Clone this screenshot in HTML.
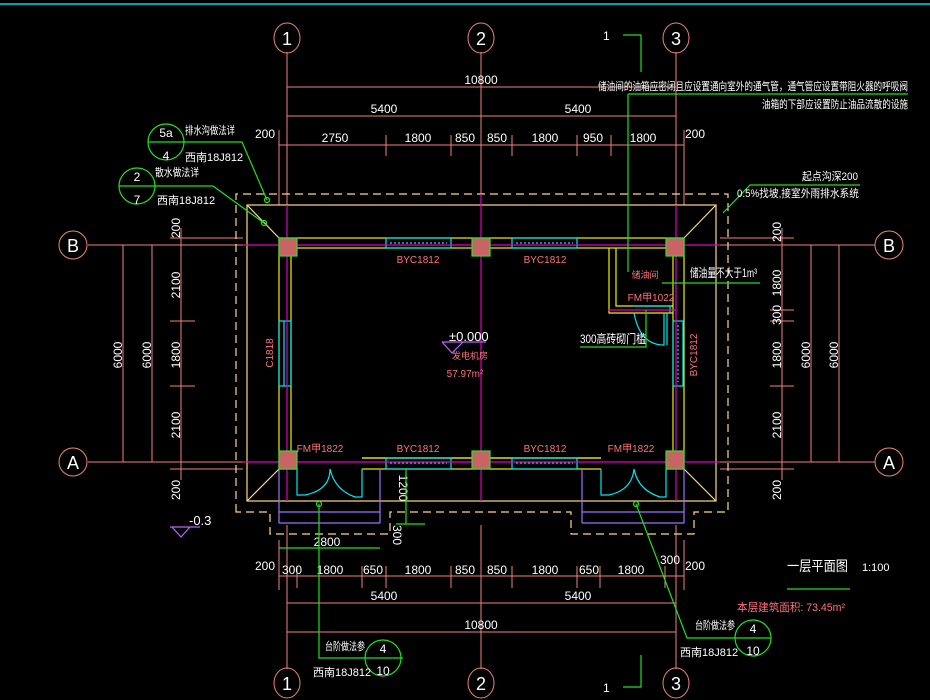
<!DOCTYPE html>
<html><head><meta charset="utf-8"><style>
html,body{margin:0;padding:0;background:#000;width:930px;height:700px;overflow:hidden}
svg{display:block}
text{font-family:"Liberation Sans","Noto Sans CJK SC",sans-serif}
</style></head><body>
<svg width="930" height="700" viewBox="0 0 930 700" xmlns="http://www.w3.org/2000/svg">
<rect width="930" height="700" fill="#000"/>
<line x1="0" y1="4" x2="930" y2="4" stroke="#00d8e0" stroke-width="1.5"/>

<g stroke="#f08080" stroke-width="1" fill="none">
<line x1="287" y1="52" x2="287" y2="205"/><line x1="481" y1="52" x2="481" y2="194"/><line x1="676" y1="52" x2="676" y2="205"/>
<line x1="287" y1="525" x2="287" y2="669"/><line x1="481" y1="525" x2="481" y2="669"/><line x1="676" y1="525" x2="676" y2="669"/>
<line x1="88" y1="245" x2="243" y2="245"/><line x1="88" y1="462" x2="243" y2="462"/>
<line x1="720" y1="245" x2="875" y2="245"/><line x1="720" y1="462" x2="875" y2="462"/>
<ellipse cx="287" cy="38" rx="13" ry="15"/><ellipse cx="481" cy="38" rx="13" ry="15"/><ellipse cx="676" cy="38" rx="13" ry="15"/>
<ellipse cx="287" cy="683" rx="13" ry="15"/><ellipse cx="481" cy="683" rx="13" ry="15"/><ellipse cx="676" cy="683" rx="13" ry="15"/>
<circle cx="73" cy="245" r="14"/><circle cx="73" cy="462" r="14"/><circle cx="889" cy="245" r="14"/><circle cx="889" cy="462" r="14"/>
<line x1="287" y1="87" x2="676" y2="87"/>
<line x1="287" y1="116" x2="676" y2="116"/>
<line x1="279" y1="145" x2="684" y2="145"/>
<line x1="279" y1="130" x2="279" y2="205"/><line x1="684" y1="130" x2="684" y2="205"/>
<line x1="386" y1="135" x2="386" y2="156"/><line x1="451" y1="135" x2="451" y2="156"/><line x1="512" y1="135" x2="512" y2="156"/><line x1="577" y1="135" x2="577" y2="156"/><line x1="611" y1="135" x2="611" y2="156"/>
<line x1="279" y1="576" x2="684" y2="576"/>
<line x1="287" y1="603" x2="676" y2="603"/>
<line x1="287" y1="632" x2="676" y2="632"/>
<line x1="279" y1="540" x2="279" y2="590"/><line x1="684" y1="540" x2="684" y2="590"/>
<line x1="297" y1="566" x2="297" y2="588"/><line x1="362" y1="566" x2="362" y2="588"/><line x1="386" y1="566" x2="386" y2="588"/><line x1="451" y1="566" x2="451" y2="588"/><line x1="512" y1="566" x2="512" y2="588"/><line x1="577" y1="566" x2="577" y2="588"/><line x1="600" y1="566" x2="600" y2="588"/><line x1="665" y1="566" x2="665" y2="588"/>
<line x1="123" y1="245" x2="123" y2="462"/><line x1="152" y1="245" x2="152" y2="462"/><line x1="181" y1="228" x2="181" y2="480"/>
<line x1="170" y1="238" x2="243" y2="238"/><line x1="170" y1="469" x2="243" y2="469"/>
<line x1="170" y1="321" x2="195" y2="321"/><line x1="170" y1="386" x2="195" y2="386"/>
<line x1="782" y1="228" x2="782" y2="480"/><line x1="811" y1="245" x2="811" y2="462"/><line x1="839" y1="245" x2="839" y2="462"/>
<line x1="720" y1="238" x2="794" y2="238"/><line x1="720" y1="469" x2="794" y2="469"/>
<line x1="770" y1="310" x2="794" y2="310"/><line x1="770" y1="321" x2="794" y2="321"/><line x1="770" y1="386" x2="794" y2="386"/>
</g>
<g fill="#fff" font-size="18" text-anchor="middle">
<text x="287" y="45">1</text><text x="481" y="45">2</text><text x="676" y="45">3</text>
<text x="287" y="690">1</text><text x="481" y="690">2</text><text x="676" y="690">3</text>
<text x="73" y="252">B</text><text x="73" y="469">A</text><text x="889" y="252">B</text><text x="889" y="469">A</text>
</g>
<g fill="#fff" font-size="12" text-anchor="middle">
<text x="481" y="84">10800</text>
<text x="384" y="113">5400</text><text x="578" y="113">5400</text>
<text x="265" y="138">200</text><text x="335" y="142">2750</text><text x="418" y="142">1800</text><text x="465" y="142">850</text><text x="497" y="142">850</text><text x="545" y="142">1800</text><text x="593" y="142">950</text><text x="643" y="142">1800</text><text x="695" y="138">200</text>
<text x="265" y="570">200</text><text x="292" y="574">300</text><text x="330" y="574">1800</text><text x="373" y="574">650</text><text x="418" y="574">1800</text><text x="465" y="574">850</text><text x="497" y="574">850</text><text x="545" y="574">1800</text><text x="589" y="574">650</text><text x="631" y="574">1800</text><text x="670" y="564">300</text><text x="695" y="570">200</text>
<text x="384" y="600">5400</text><text x="578" y="600">5400</text>
<text x="481" y="629">10800</text>
<text x="327" y="546">2800</text>
<g transform="rotate(-90)">
<text x="-355" y="122">6000</text><text x="-355" y="151">6000</text>
<text x="-285" y="180">2100</text><text x="-355" y="180">1800</text><text x="-425" y="180">2100</text>
<text x="-228" y="180">200</text><text x="-490" y="180">200</text>
<text x="-283" y="781">1800</text><text x="-315" y="781">300</text><text x="-355" y="781">1800</text><text x="-425" y="781">2100</text>
<text x="-232" y="781">200</text><text x="-490" y="781">200</text>
<text x="-355" y="810">6000</text><text x="-355" y="838">6000</text>
</g>
<g transform="rotate(90)">
<text x="488" y="-399">1200</text><text x="535" y="-393">300</text>
</g>
</g>

<g stroke="#ffd880" fill="none" stroke-width="1.2">
<rect x="247" y="205" width="469" height="296"/>
<line x1="247" y1="205" x2="279" y2="238"/><line x1="716" y1="205" x2="684" y2="238"/>
<line x1="247" y1="501" x2="279" y2="469"/><line x1="716" y1="501" x2="684" y2="469"/>
<path d="M236,512 V194 H728 V512 H694 V534 H571 V512 H390 V534 H270 V512 Z" stroke-dasharray="8,5"/>
</g>
<g stroke="#f0f000" fill="none" stroke-width="1.2">
<rect x="279" y="238" width="405" height="231"/>
<rect x="291" y="248" width="382" height="210"/>
<path d="M609,248 V313 H673"/><path d="M616,248 V306 H673"/>
<line x1="362" y1="458" x2="601" y2="458"/>
</g>
<rect x="297" y="457" width="65" height="13" fill="#000"/>
<rect x="601" y="457" width="65" height="13" fill="#000"/>
<g stroke="#a070ff" fill="none" stroke-width="1.2">
<path d="M279,469 V523 M380,469 V523 M279,512 H380 M279,523 H380"/>
<path d="M582,469 V523 M684,469 V523 M582,512 H684 M582,523 H684"/>
</g>
<g stroke="#00e8f0" fill="none" stroke-width="1.2">
<rect x="386" y="238" width="65" height="10"/><rect x="512" y="238" width="65" height="10"/>
<rect x="386" y="458" width="65" height="11"/><rect x="512" y="458" width="65" height="11"/>
<rect x="279" y="321" width="12" height="65"/><line x1="284" y1="321" x2="284" y2="386"/>
<rect x="673" y="321" width="10" height="65"/>
<path d="M390,243 H447 M516,243 H573 M390,463 H447 M516,463 H573 M678,325 V382" stroke-dasharray="2,2"/>
<path d="M297,469 V495 H305 Q330,490 330,469 Q335,490 355,497 H362 V469"/>
<path d="M601,469 V495 H609 Q632,490 634,469 Q638,490 660,497 H666 V469"/>
<path d="M633,306 H670 V313 M634,313 Q640,345 664,345 V313 M667,313 V345"/>
</g>
<g stroke="#e000c0" stroke-width="1.2">
<line x1="287" y1="205" x2="287" y2="501"/><line x1="481" y1="194" x2="481" y2="501"/><line x1="676" y1="205" x2="676" y2="501"/>
<line x1="243" y1="245" x2="720" y2="245"/><line x1="243" y1="462" x2="720" y2="462"/>
<line x1="608" y1="310" x2="676" y2="310"/>
<path d="M442,342 H486 M442,342 L452,353 L463,342" fill="none" stroke="#c060ff"/>
<path d="M170,527 H200 M172,527 L181,537 L190,527" fill="none" stroke="#c060ff"/>
</g>
<g fill="#c86464" stroke="#30e030" stroke-width="1.2">
<rect x="279" y="238" width="18" height="18"/><rect x="472" y="238" width="18" height="18"/><rect x="666" y="238" width="18" height="18"/>
<rect x="279" y="451" width="18" height="18"/><rect x="472" y="451" width="18" height="18"/><rect x="666" y="451" width="18" height="18"/>
</g>
<g stroke="#20e020" fill="none" stroke-width="1.2">
<path d="M623,35 H641 V72"/><path d="M623,687 H641 V655"/>
<path d="M628,94 H908"/><path d="M628,94 V272"/>
<ellipse cx="166" cy="142" rx="18" ry="18"/><path d="M148,142 H242 L267,200"/><circle cx="267" cy="200" r="2.5"/>
<ellipse cx="137" cy="186" rx="18" ry="18"/><path d="M119,186 H213 L264,223"/><circle cx="264" cy="223" r="2.5"/>
<path d="M860,185 H750 L723,213"/>
<path d="M662,283 H760"/><path d="M580,347 H646 V310"/>
<path d="M319,504 V658 H403"/><circle cx="319" cy="504" r="2.5"/><ellipse cx="383" cy="658" rx="18" ry="18"/>
<path d="M636,504 L687,638 H771"/><circle cx="636" cy="504" r="2.5"/><ellipse cx="753" cy="638" rx="18" ry="18"/>
<path d="M787,589 H850"/>
<path d="M279,548 H380"/><path d="M406,469 V524 M396,524 H425"/>
</g>
<g fill="#fff" font-size="11">
<text x="603" y="40" font-size="12">1</text><text x="603" y="692" font-size="12">1</text>
<text x="598" y="90" textLength="310" lengthAdjust="spacingAndGlyphs">储油间的油箱应密闭且应设置通向室外的通气管，通气管应设置带阻火器的呼吸阀</text>
<text x="762" y="108" textLength="146" lengthAdjust="spacingAndGlyphs">油箱的下部应设置防止油品流散的设施</text>
<text x="185" y="134" textLength="50" lengthAdjust="spacingAndGlyphs">排水沟做法详</text><text x="185" y="161">西南18J812</text>
<text x="155" y="176" textLength="44" lengthAdjust="spacingAndGlyphs">散水做法详</text><text x="157" y="204">西南18J812</text>
<text x="802" y="180" textLength="56" lengthAdjust="spacingAndGlyphs">起点沟深200</text><text x="737" y="197" textLength="122" lengthAdjust="spacingAndGlyphs">0.5%找坡,接室外雨排水系统</text>
<text x="690" y="277" font-size="12" textLength="67" lengthAdjust="spacingAndGlyphs">储油量不大于1m³</text>
<text x="580" y="343" font-size="12" textLength="66" lengthAdjust="spacingAndGlyphs">300高砖砌门槛</text>
<text x="449" y="341" font-size="13">±0.000</text>
<text x="189" y="525" font-size="13">-0.3</text>
<text x="325" y="650" textLength="40" lengthAdjust="spacingAndGlyphs">台阶做法参</text><text x="313" y="676">西南18J812</text>
<text x="695" y="629" textLength="40" lengthAdjust="spacingAndGlyphs">台阶做法参</text><text x="680" y="656">西南18J812</text>
<text x="787" y="571" font-size="14" textLength="61" lengthAdjust="spacingAndGlyphs">一层平面图</text><text x="862" y="571" font-size="11">1:100</text>
</g>
<g fill="#fff" font-size="12" text-anchor="middle">
<text x="166" y="137">5a</text><text x="166" y="160">4</text>
<text x="137" y="181">2</text><text x="137" y="204">7</text>
<text x="383" y="653">4</text><text x="383" y="675">10</text>
<text x="753" y="633">4</text><text x="753" y="655">10</text>
</g>
<g fill="#ff7080" font-size="10" text-anchor="middle">
<text x="418" y="263">BYC1812</text><text x="545" y="263">BYC1812</text>
<text x="418" y="452">BYC1812</text><text x="545" y="452">BYC1812</text>
<text x="320" y="452">FM甲1822</text><text x="631" y="452">FM甲1822</text>
<text x="645" y="278" font-size="9">储油间</text><text x="651" y="301">FM甲1022</text>
<text x="470" y="359" font-size="9">发电机房</text><text x="465" y="377">57.97m²</text>
<text x="791" y="611" font-size="11" textLength="108" lengthAdjust="spacingAndGlyphs">本层建筑面积: 73.45m²</text>
<text transform="translate(273,353) rotate(-90)">C1818</text>
<text transform="translate(697,355) rotate(-90)">BYC1812</text>
</g>
</svg>
</body></html>
